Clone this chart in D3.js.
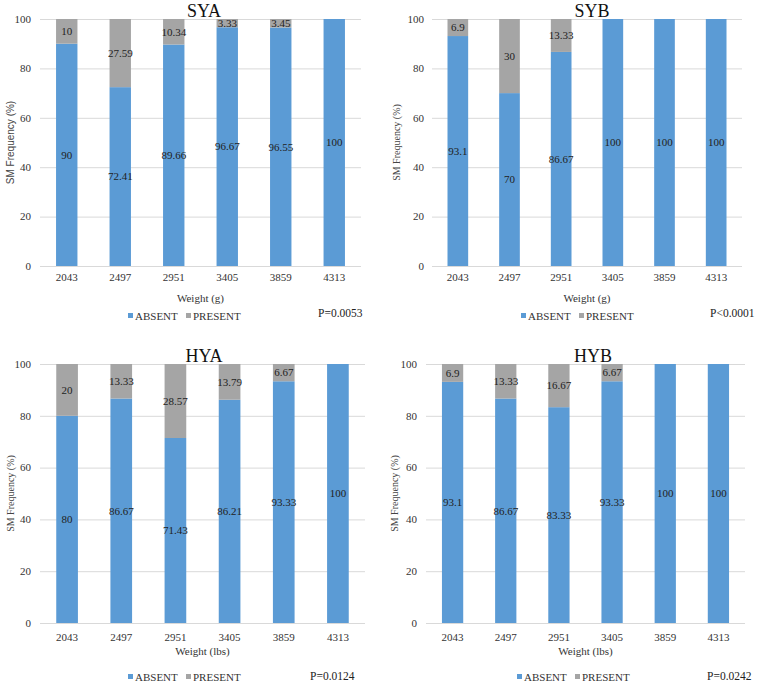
<!DOCTYPE html>
<html><head><meta charset="utf-8">
<script src="https://cdn.jsdelivr.net/npm/d3@7"></script>
<style>body{margin:0;background:#fff}svg{display:block}</style>
</head><body>
<script>
const categories = ["2043","2497","2951","3405","3859","4313"];
const yTicks = [0,20,40,60,80,100];
const seriesNames = ["ABSENT","PRESENT"];
const syaAbsent = [90,72.41,89.66,96.67,96.55,100];
const syaPresent = [10,27.59,10.34,3.33,3.45,0];
const sybAbsent = [93.1,70,86.67,100,100,100];
const sybPresent = [6.9,30,13.33,0,0,0];
const hyaAbsent = [80,86.67,71.43,86.21,93.33,100];
const hyaPresent = [20,13.33,28.57,13.79,6.67,0];
const hybAbsent = [93.1,86.67,83.33,93.33,100,100];
const hybPresent = [6.9,13.33,16.67,6.67,0,0];
const titles = ["SYA","SYB","HYA","HYB"];
const xTitles = ["Weight (g)","Weight (g)","Weight (lbs)","Weight (lbs)"];
const pValues = ["P=0.0053","P<0.0001","P=0.0124","P=0.0242"];

const colors = {ABSENT:"#5B9BD5", PRESENT:"#A5A5A5"};
const serif = "'Liberation Serif','Times New Roman',serif";

const svg = d3.select("body").append("svg").attr("width",761).attr("height",683);

const panels = [
  {abs:syaAbsent, pre:syaPresent, l:40, r:361, t:19, b:266, titleX:204, titleY:17, ylabX:10, ytickX:31, tickY:281, xtY:302, legY:316, legX:128, pX:318, pY:317},
  {abs:sybAbsent, pre:sybPresent, l:432, r:742, t:19, b:266, titleX:592, titleY:17, ylabX:396, ytickX:424, tickY:281, xtY:302, legY:316, legX:521, pX:710, pY:317},
  {abs:hyaAbsent, pre:hyaPresent, l:40, r:365, t:364, b:623, titleX:204, titleY:362, ylabX:10, ytickX:31, tickY:641, xtY:655, legY:677, legX:128, pX:310, pY:680},
  {abs:hybAbsent, pre:hybPresent, l:426, r:745, t:364, b:623, titleX:593, titleY:362, ylabX:394, ytickX:417, tickY:641, xtY:655, legY:677, legX:517, pX:707, pY:680}
];

panels.forEach((p,i)=>{
  const g = svg.append("g");
  const x = d3.scaleBand().domain(categories).range([p.l,p.r]).paddingInner(0.6).paddingOuter(0.3);
  const y = d3.scaleLinear().domain([0,100]).range([p.b,p.t]);

  g.selectAll("line.grid").data(yTicks).join("line")
    .attr("x1",p.l).attr("x2",p.r)
    .attr("y1",d=>y(d)+0.5).attr("y2",d=>y(d)+0.5)
    .attr("stroke","#D9D9D9").attr("stroke-width",1);

  g.selectAll("text.yt").data(yTicks).join("text")
    .attr("x",p.ytickX).attr("y",d=>y(d)).attr("dy","0.35em")
    .attr("text-anchor","end").attr("font-family",serif).attr("font-size",11).attr("fill","#333")
    .text(d=>d);

  const stackData = categories.map((c,j)=>({cat:c, ABSENT:p.abs[j], PRESENT:p.pre[j]}));
  const stacked = d3.stack().keys(seriesNames)(stackData);

  stacked.forEach(s=>{
    g.selectAll(null).data(s).join("rect")
      .attr("x",d=>x(d.data.cat)).attr("width",x.bandwidth())
      .attr("y",d=>y(d[1])).attr("height",d=>y(d[0])-y(d[1]))
      .attr("fill",colors[s.key]);
  });
  stacked.forEach(s=>{
    g.selectAll(null).data(s.filter(d=>d[1]-d[0]>0)).join("text")
      .attr("x",d=>x(d.data.cat)+x.bandwidth()/2)
      .attr("y",d=>y((d[0]+d[1])/2))
      .attr("dy","0.35em").attr("text-anchor","middle")
      .attr("font-family",serif).attr("font-size",11).attr("fill","#222")
      .text(d=>d.data[s.key]);
  });

  g.selectAll("text.xt").data(categories).join("text")
    .attr("x",d=>x(d)+x.bandwidth()/2).attr("y",p.tickY)
    .attr("text-anchor","middle").attr("font-family",serif).attr("font-size",11).attr("fill","#333")
    .text(d=>d);

  g.append("text").attr("x",p.titleX).attr("y",p.titleY).attr("text-anchor","middle")
    .attr("font-family",serif).attr("font-size",18).attr("fill","#111").text(titles[i]);

  g.append("text").attr("x",(p.l+p.r)/2).attr("y",p.xtY).attr("text-anchor","middle")
    .attr("font-family",serif).attr("font-size",11).attr("fill","#333").text(xTitles[i]);

  g.append("text").attr("transform",`translate(${p.ylabX},${(p.t+p.b)/2}) rotate(-90)`)
    .attr("text-anchor","middle").attr("dy","0.35em")
    .attr("font-family", i===0 ? "'Liberation Sans',Arial,sans-serif" : serif)
    .attr("font-size",10).attr("fill","#444").text("SM Frequency (%)");

  let lx = p.legX;
  seriesNames.forEach((k,j)=>{
    g.append("rect").attr("x",lx).attr("y",p.legY-3).attr("width",5).attr("height",5).attr("fill",colors[k]);
    g.append("text").attr("x",lx+7).attr("y",p.legY).attr("dy","0.35em")
      .attr("font-family",serif).attr("font-size",11).attr("fill","#333").text(k);
    lx += 58;
  });

  g.append("text").attr("x",p.pX).attr("y",p.pY).attr("font-family",serif).attr("font-size",11.5)
    .attr("fill","#222").text(pValues[i]);
});
</script>
</body></html>
